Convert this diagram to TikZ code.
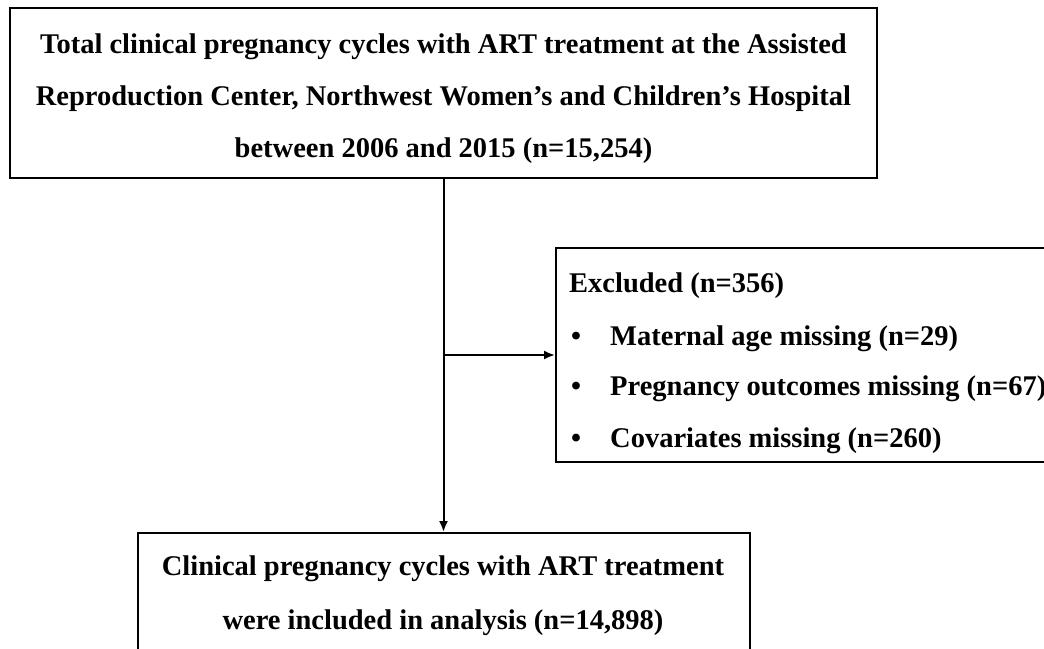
\documentclass[tikz,border=0pt]{standalone}
\usepackage{fontspec}
\setmainfont{Liberation Serif}
\usetikzlibrary{arrows.meta}
\begin{document}
\begin{tikzpicture}[x=1pt,y=-1pt,
  box/.style={draw,line width=2pt,inner sep=0pt},
  txt/.style={font=\bfseries\fontsize{28.5}{52}\selectfont,inner sep=0pt,anchor=base},
  ltxt/.style={txt,anchor=base west},
  conn/.style={line width=2pt,-{Latex[length=11pt,width=9pt]}}]
\useasboundingbox (0,0) rectangle (1044,648);
\clip (0,0) rectangle (1044,648);
% boxes
\node[box,minimum width=867pt,minimum height=170pt] (top) at (443.5,93) {};
\node[box,minimum width=600pt,minimum height=214pt,anchor=west] (excl) at (555,355) {};
\node[box,minimum width=612pt,minimum height=170pt,anchor=north] (bot) at (444,532) {};
% top text
\node[txt] (t1) at (443.5,53) {Total clinical pregnancy cycles with ART treatment at the Assisted};
\node[txt] (t2) at (443.5,105) {Reproduction Center, Northwest Women’s and Children’s Hospital};
\node[txt] (t3) at (443.5,157) {between 2006 and 2015 (n=15,254)};
% excluded text
\node[ltxt] (e0) at (569,292) {Excluded (n=356)};
\node[ltxt] (b1) at (571,345) {•};
\node[ltxt] (e1) at (610,345) {Maternal age missing (n=29)};
\node[ltxt] (b2) at (571,395) {•};
\node[ltxt] (e2) at (610,395) {Pregnancy outcomes missing (n=67)};
\node[ltxt] (b3) at (571,447) {•};
\node[ltxt] (e3) at (610,447) {Covariates missing (n=260)};
% bottom text
\node[txt] (c1) at (443,575) {Clinical pregnancy cycles with ART treatment};
\node[txt] (c2) at (443,629) {were included in analysis (n=14,898)};
% connectors
\draw[conn] (top.south) -- (top.south |- bot.north);
\draw[conn] (top.south |- excl.west) -- (excl.west);
\end{tikzpicture}
\end{document}
